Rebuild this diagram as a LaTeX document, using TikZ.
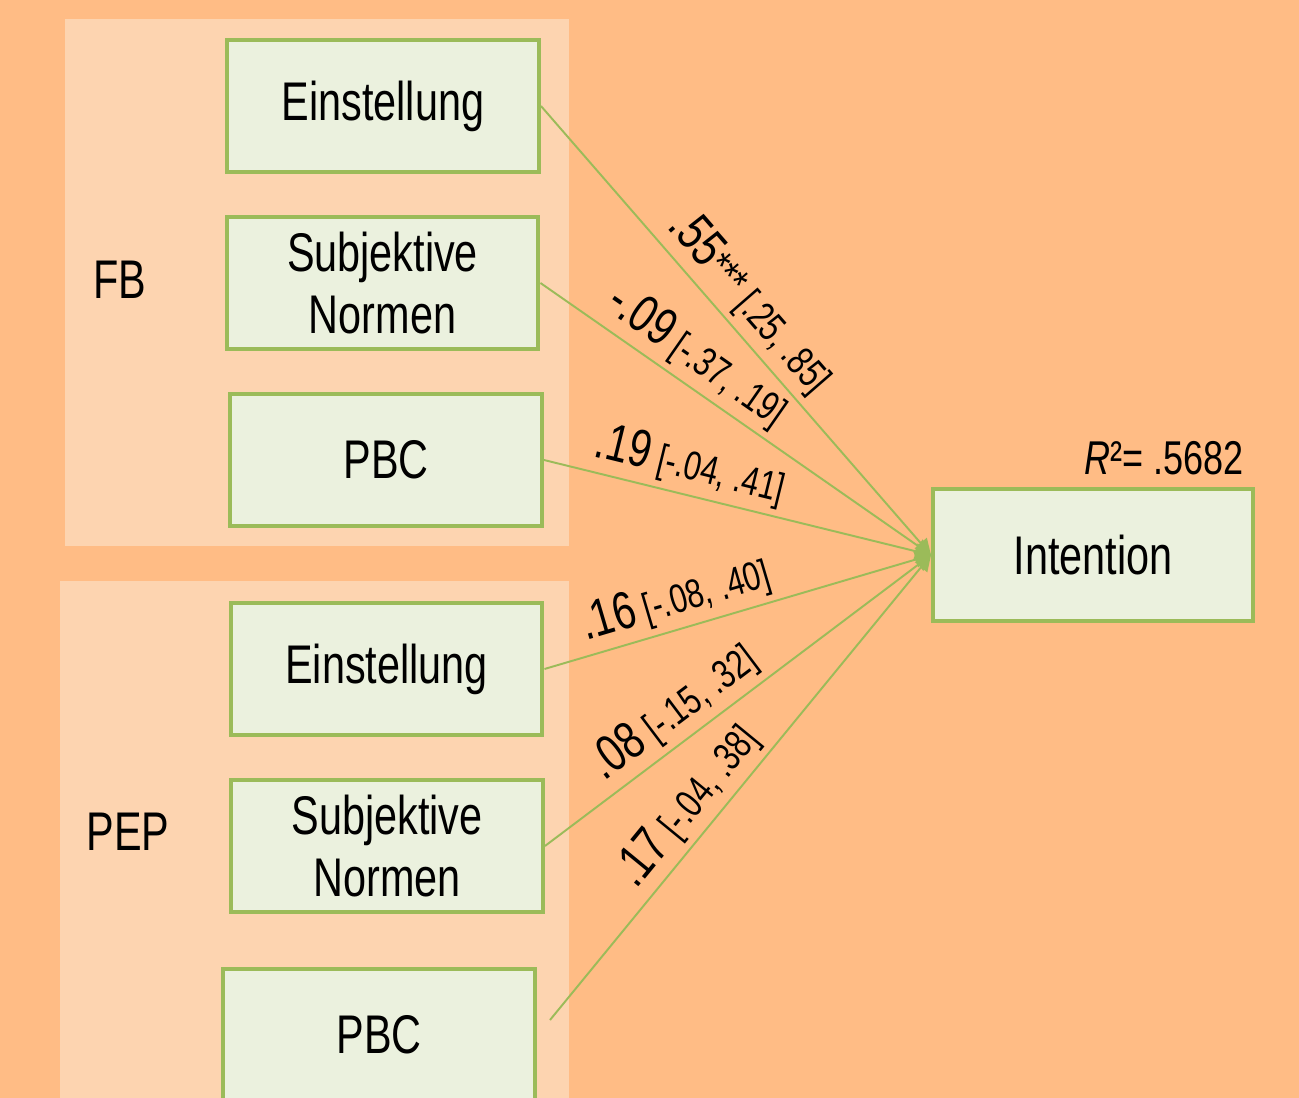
\documentclass[tikz,border=0pt]{standalone}
\usepackage{fontspec}
\setmainfont{Liberation Sans}[FakeStretch=0.76]
\usetikzlibrary{arrows.meta}
\definecolor{bgorange}{RGB}{255,188,133}
\definecolor{panelorange}{RGB}{253,212,176}
\definecolor{boxfill}{RGB}{235,241,222}
\definecolor{boxline}{RGB}{155,187,89}
\tikzset{var/.style={rectangle,draw=boxline,fill=boxfill,line width=0.08cm,
           minimum width=6.24cm,minimum height=2.64cm,align=center,
           font=\fontsize{31}{35}\selectfont},
         reg/.style={-{Triangle[length=9pt,width=9pt]},draw=boxline,line width=1.1pt},
         coef/.style={sloped,above,inner sep=3.5pt},
         group/.style={font=\fontsize{31}{35}\selectfont}
}
\newcommand{\estci}[2]{{\fontsize{30}{30}\selectfont #1}{\fontsize{23}{23}\selectfont\ #2}}
\newcommand{\stars}{{\fontsize{25}{25}\selectfont ***}}

\begin{document}
\begin{tikzpicture}[x=0.02cm,y=-0.02cm]
  \useasboundingbox (0,0) rectangle (1299,1098);
  \clip (0,0) rectangle (1299,1098);
  \fill[bgorange] (0,0) rectangle (1299,1098);
  % groups
  \fill[panelorange] (65,19) rectangle (569,546);
  \fill[panelorange] (60,581) rectangle (569,1110);
  \node[group] (FB) at (120,280) {FB};
  \node[group] (PEP) at (128,832) {PEP};
  % predictors
  \node[var] (E1) at (383,106) {Einstellung};
  \node[var] (S1) at (382.5,283) {Subjektive\\Normen};
  \node[var] (P1) at (386,460) {PBC};
  \node[var] (E2) at (386.5,669) {Einstellung};
  \node[var] (S2) at (387,846) {Subjektive\\Normen};
  \node[var] (P2) at (379,1035) {PBC};
  % outcome
  \node[var, minimum width=6.4cm] (I) at (1093,555) {Intention};
  \node[anchor=base east, font=\fontsize{27}{30}\selectfont] (R) at (1250,474) {\textit{R}²= .5682};
  \coordinate (P2out) at (550,1020);
  \path (E1.east) edge[reg] node[coef,pos=0.48] {\estci{.55\stars}{[.25, .85]}} (I.west)
        (S1.east) edge[reg] node[coef,pos=0.36] {\estci{-.09}{[-.37, .19]}} (I.west)
        (P1.east) edge[reg] node[coef,pos=0.36] {\estci{.19}{[-.04, .41]}} (I.west)
        (E2.east) edge[reg] node[coef,pos=0.36] {\estci{.16}{[-.08, .40]}} (I.west)
        (S2.east) edge[reg] node[coef,pos=0.38] {\estci{.08}{[-.15, .32]}} (I.west)
        (P2out) edge[reg] node[coef,pos=0.42] {\estci{.17}{[-.04, .38]}} (I.west);
\end{tikzpicture}
\end{document}
